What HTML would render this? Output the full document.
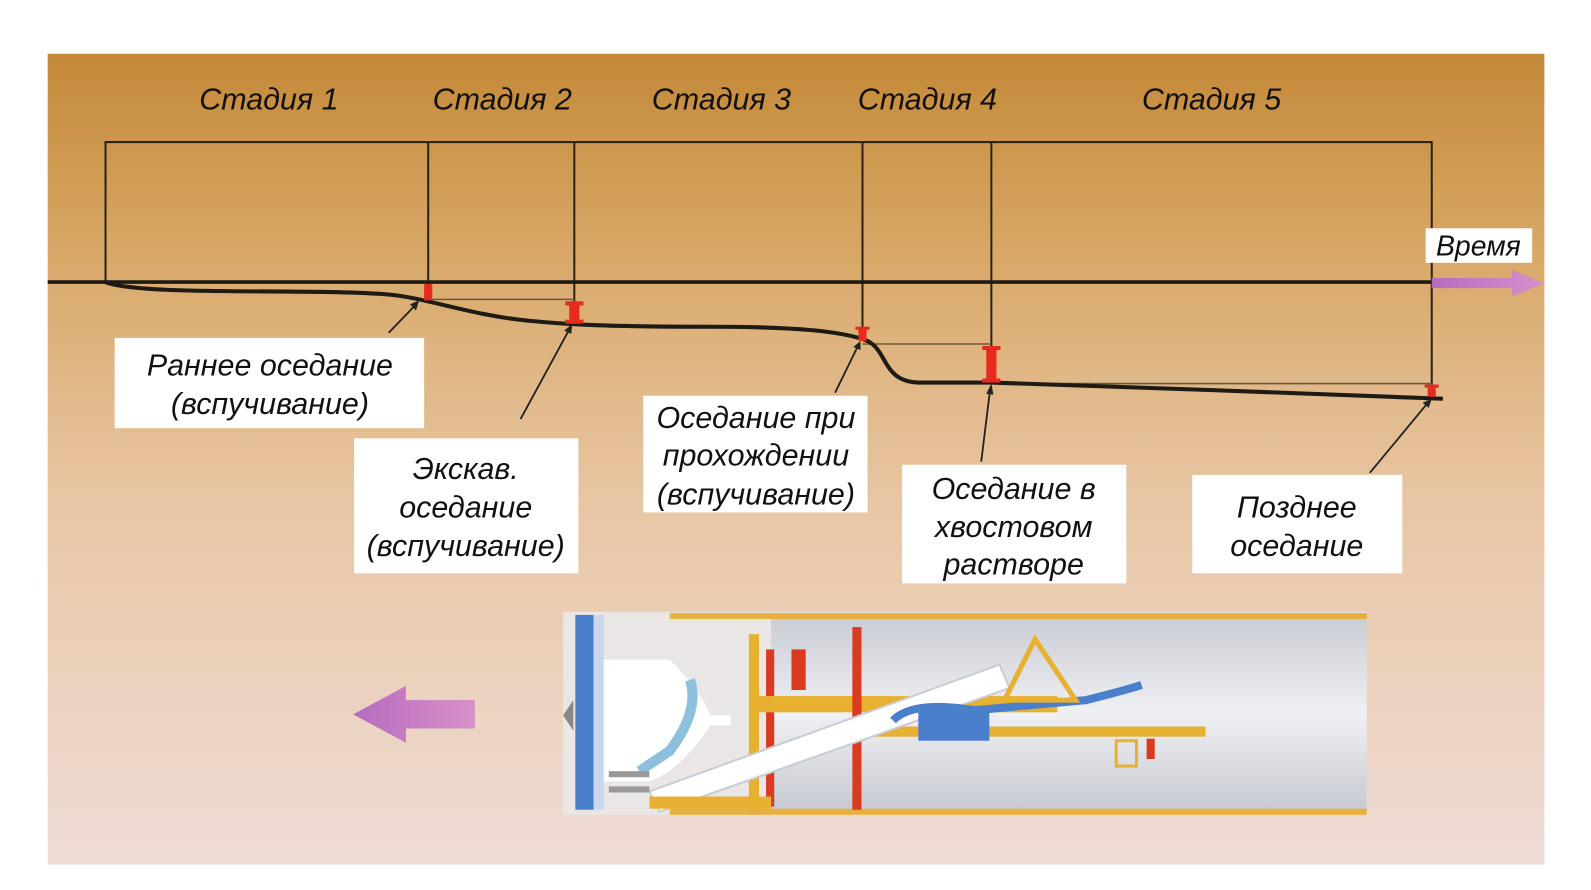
<!DOCTYPE html>
<html><head><meta charset="utf-8"><style>
html,body{margin:0;padding:0;background:#fff;width:1591px;height:890px;overflow:hidden}
svg{display:block}
text{font-family:"Liberation Sans Narrow","Liberation Sans",sans-serif;font-style:italic;fill:#111}
</style></head><body>
<svg width="1591" height="890" viewBox="0 0 1591 890" xmlns="http://www.w3.org/2000/svg">
<defs>
<linearGradient id="bg" x1="0" y1="0" x2="0" y2="1">
<stop offset="0" stop-color="#c48938"/>
<stop offset="0.25" stop-color="#d8a868"/>
<stop offset="0.55" stop-color="#e8c6a4"/>
<stop offset="1" stop-color="#efdcd6"/>
</linearGradient>
<linearGradient id="tun" x1="0" y1="0" x2="0" y2="1">
<stop offset="0" stop-color="#c9ccd3"/><stop offset="0.5" stop-color="#eef0f3"/><stop offset="1" stop-color="#c6c9d0"/>
</linearGradient>
<linearGradient id="pur" x1="0" y1="0" x2="1" y2="0">
<stop offset="0" stop-color="#b56cc0"/><stop offset="1" stop-color="#d890c8"/>
</linearGradient>
</defs>
<g transform="scale(1.0147)">
<rect x="47" y="53" width="1475" height="799" fill="url(#bg)"/>

<g font-size="30" text-anchor="middle">
<text x="265" y="108">Стадия 1</text>
<text x="495" y="108">Стадия 2</text>
<text x="711" y="108">Стадия 3</text>
<text x="914" y="108">Стадия 4</text>
<text x="1194" y="108">Стадия 5</text>
</g>

<g stroke="#2a2418" stroke-width="2" fill="none">
<polyline points="104,278 104,140 1411,140 1411,392"/>
<line x1="422" y1="140" x2="422" y2="282"/>
<line x1="566" y1="140" x2="566" y2="300"/>
<line x1="850" y1="140" x2="850" y2="324"/>
<line x1="977" y1="140" x2="977" y2="342"/>
<line x1="422" y1="295" x2="566" y2="295" stroke-width="1.5" stroke="#6a5a40"/>
<line x1="850" y1="339" x2="977" y2="339" stroke-width="1.5" stroke="#6a5a40"/>
<line x1="977" y1="378" x2="1411" y2="378" stroke-width="1.5" stroke="#6a5a40"/>
</g>
<line x1="47" y1="278" x2="1420" y2="278" stroke="#1e1a14" stroke-width="3.5"/>
<polygon points="1411,274 1490,274 1490,266 1522,279 1490,292 1490,284 1411,284" fill="url(#pur)"/>
<rect x="1405" y="225" width="105" height="34" fill="#fff"/>
<text x="1457" y="252" font-size="28" text-anchor="middle">Время</text>

<path d="M104,278 C140,292 300,284 380,290 C420,293 460,310 520,316 C560,320 600,322 700,322 C780,322 830,326 855,336 C875,346 870,376 905,377 L977,377 C1100,381 1300,388 1422,393" stroke="#1e1a14" stroke-width="4" fill="none"/>

<g fill="#e52a1e">
<rect x="418" y="280" width="8" height="16"/>
<rect x="561" y="297" width="10" height="22"/><rect x="557" y="297" width="18" height="4"/><rect x="557" y="315" width="18" height="4"/>
<rect x="846" y="322" width="8" height="14"/><rect x="843" y="322" width="14" height="3"/>
<rect x="972" y="341" width="10" height="36"/><rect x="968" y="341" width="18" height="4"/><rect x="968" y="373" width="18" height="4"/>
<rect x="1407" y="379" width="8" height="12"/><rect x="1404" y="379" width="14" height="3"/>
</g>

<g stroke="#222" stroke-width="1.8">
<line x1="383" y1="328" x2="410" y2="300"/>
<line x1="513" y1="413" x2="562" y2="323"/>
<line x1="823" y1="387" x2="846" y2="340"/>
<line x1="967" y1="455" x2="976" y2="382"/>
<line x1="1350" y1="466" x2="1408" y2="396"/>
</g>
<g fill="#222">
<polygon points="413,296 404,300 410,306"/>
<polygon points="564,319 556,326 563,329"/>
<polygon points="848,336 841,342 848,345"/>
<polygon points="977,378 972,388 979,389"/>
<polygon points="1411,393 1402,397 1408,402"/>
</g>

<g fill="#fff">
<rect x="113" y="333" width="305" height="89"/>
<rect x="349" y="432" width="221" height="133"/>
<rect x="634" y="390" width="221" height="115"/>
<rect x="889" y="458" width="221" height="117"/>
<rect x="1175" y="468" width="207" height="97"/>
</g>
<g font-size="30" text-anchor="middle">
<text x="266" y="370">Раннее оседание</text>
<text x="266" y="408">(вспучивание)</text>
<text x="459" y="472">Экскав.</text>
<text x="459" y="510">оседание</text>
<text x="459" y="548">(вспучивание)</text>
<text x="745" y="422">Оседание при</text>
<text x="745" y="459">прохождении</text>
<text x="745" y="497">(вспучивание)</text>
<text x="999" y="492">Оседание в</text>
<text x="999" y="529">хвостовом</text>
<text x="999" y="566">растворе</text>
<text x="1278" y="510">Позднее</text>
<text x="1278" y="548">оседание</text>
</g>

<polygon points="348,704 400,676 400,690 468,690 468,718 400,718 400,732" fill="url(#pur)"/>

<!-- TBM -->
<rect x="555" y="603" width="792" height="200" fill="#ebe6e6"/>
<rect x="760" y="608" width="587" height="192" fill="url(#tun)"/>
<rect x="660" y="604" width="687" height="6" fill="#e8b040"/>
<rect x="660" y="797" width="687" height="6" fill="#e8b040"/>
<rect x="567" y="606" width="18" height="192" fill="#4a7fcc"/>
<rect x="585" y="606" width="10" height="192" fill="#c8d6ee"/>
<polygon points="555,705 565,690 565,720" fill="#888"/>
<path d="M595,650 L660,650 Q690,680 700,705 L720,705 L720,715 L700,715 Q670,760 640,770 L595,770 Z" fill="#ffffff"/>
<path d="M680,670 Q690,700 660,740 L630,760" stroke="#8cc0dc" stroke-width="10" fill="none"/>
<rect x="738" y="625" width="10" height="175" fill="#e8b030"/>
<rect x="755" y="640" width="8" height="155" fill="#d93a20"/>
<rect x="742" y="686" width="300" height="16" fill="#e8b030"/>
<rect x="840" y="618" width="9" height="180" fill="#d93a20"/>
<rect x="780" y="640" width="14" height="40" fill="#d93a20"/>
<rect x="860" y="716" width="328" height="10" fill="#e8b030"/>
<polygon points="640,780 985,655 995,678 650,800" fill="#ffffff" stroke="#c8ccd4" stroke-width="2"/>
<rect x="905" y="700" width="70" height="30" fill="#4a7fcc"/>
<path d="M880,710 Q900,690 960,700 L1070,690 Q1110,680 1125,675" stroke="#4a7fcc" stroke-width="8" fill="none"/>
<polygon points="990,690 1020,630 1060,690" fill="none" stroke="#e8b030" stroke-width="5"/>
<rect x="1100" y="730" width="20" height="25" fill="none" stroke="#e8b030" stroke-width="3"/>
<rect x="1130" y="728" width="8" height="20" fill="#d93a20"/>
<rect x="600" y="760" width="40" height="6" fill="#999"/>
<rect x="600" y="775" width="40" height="6" fill="#999"/>
<rect x="640" y="785" width="120" height="12" fill="#e8b030"/>
</g>
</svg>
</body></html>
